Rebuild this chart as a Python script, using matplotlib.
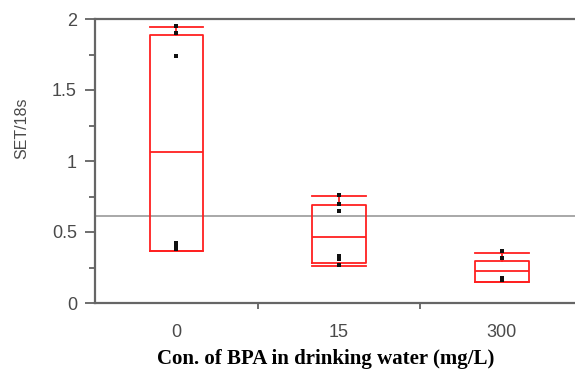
import matplotlib
matplotlib.use("Agg")
import matplotlib.pyplot as plt

plt.rcParams["font.family"] = ["Liberation Sans", "DejaVu Sans"]

groups = ["0", "15", "300"]
q1 = [0.366, 0.284, 0.149]
med = [1.063, 0.466, 0.226]
q3 = [1.886, 0.688, 0.298]
whislo = [0.366, 0.261, 0.149]
whishi = [1.944, 0.751, 0.352]
pts = [
    [1.95, 1.90, 1.74, 0.42, 0.40, 0.38],
    [0.76, 0.70, 0.65, 0.33, 0.31, 0.27],
    [0.365, 0.315, 0.175, 0.165],
]
ref_level = 0.615

fig = plt.figure(figsize=(5.75, 3.74), dpi=100)
ax = fig.add_axes([95/575, 71/374, 1 - 95/575, 284/374])

stats = []
for i in range(len(groups)):
    stats.append(dict(med=med[i], q1=q1[i], q3=q3[i], whislo=whislo[i], whishi=whishi[i], fliers=[]))
red = "#ff2020"
ax.bxp(stats, positions=range(len(groups)), widths=0.33, capwidths=0.33,
       showfliers=False,
       boxprops=dict(color=red, lw=1.3),
       medianprops=dict(color=red, lw=1.3),
       whiskerprops=dict(color=red, lw=1.3),
       capprops=dict(color=red, lw=1.3))

for i, p in enumerate(pts):
    ax.scatter([i]*len(p), p, s=7, marker="s", color="#111111", zorder=5, lw=0)

ax.axhline(ref_level, color="#999999", lw=1.2, zorder=1)

ax.set_xlim(-0.5, 2.45)
ax.set_ylim(0, 2)
ax.set_yticks([0, 0.5, 1, 1.5, 2])
ax.set_yticklabels(["0", "0.5", "1", "1.5", "2"])
ax.set_yticks([0.25, 0.75, 1.25, 1.75], minor=True)
ax.set_xticks(range(len(groups)))
ax.set_xticklabels(groups)
ax.set_xticks([0.5, 1.5], minor=True)

ax.tick_params(axis="y", which="major", length=7, width=1.2, color="#555555",
               labelsize=13, labelcolor="#4a4a4a", pad=6)
ax.tick_params(axis="y", which="minor", length=4, width=1.2, color="#555555")
ax.tick_params(axis="x", which="major", length=0, labelsize=13, labelcolor="#4a4a4a", pad=15)
ax.tick_params(axis="x", which="minor", length=4, width=1.2, color="#555555")

ax.spines["right"].set_visible(False)
for s in ["left", "bottom", "top"]:
    ax.spines[s].set_color("#666666")
    ax.spines[s].set_linewidth(1.6)

fig.text(22/575, 1 - 128/374, "SET/18s", rotation=90, ha="center", va="center",
         fontsize=11.5, color="#4a4a4a")
fig.text(326/575, 1 - 359/374, "Con. of BPA in drinking water (mg/L)", ha="center", va="center",
         fontsize=15, fontweight="bold", family="Liberation Serif")

plt.savefig("out.png", dpi=100)
